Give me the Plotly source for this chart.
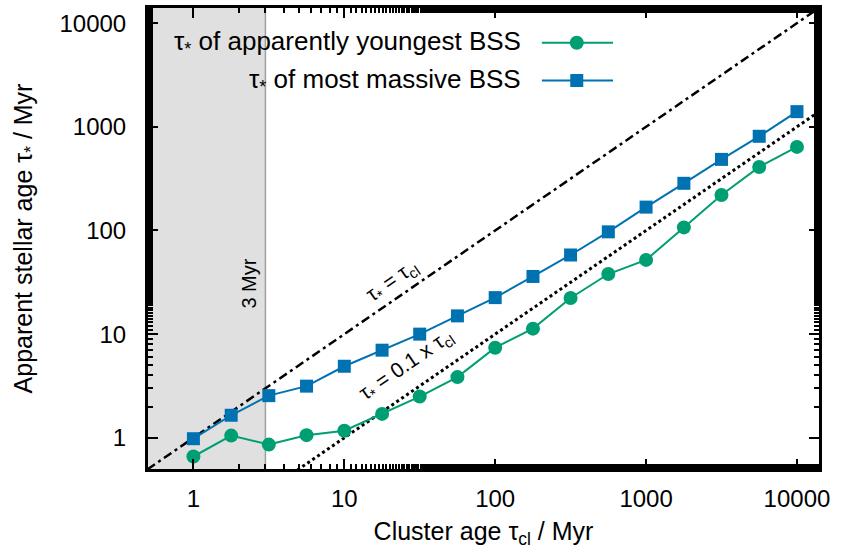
import plotly.graph_objects as go

# Cluster ages (Myr), evenly spaced in log10 with 4 steps per decade
cluster_age = [1, 1.78, 3.16, 5.62, 10, 17.8, 31.6, 56.2, 100, 178, 316, 562,
               1000, 1780, 3160, 5620, 10000]

# Apparent stellar age of the apparently youngest blue straggler
tau_youngest = [0.66, 1.05, 0.86, 1.06, 1.17, 1.7, 2.5, 3.85, 7.4, 11.3, 22.3,
                38, 52, 107, 220, 410, 640]

# Apparent stellar age of the most massive blue straggler
tau_massive = [0.98, 1.65, 2.55, 3.15, 4.9, 7.0, 10, 15, 22.5, 36, 58, 97,
               168, 285, 485, 810, 1400]

# Reference relations
ref_x = [0.3, 30000]
ref_equal = [v for v in ref_x]
ref_tenth = [0.1 * v for v in ref_x]

shade_limit = 3  # Myr
tick_vals = [1, 10, 100, 1000, 10000]
tick_text = ["1", "10", "100", "1000", "10000"]

legend_names = ["τ<sub>*</sub> of apparently youngest BSS",
                "τ<sub>*</sub> of most massive BSS"]

GREEN = "#009E73"
BLUE = "#0072B2"
FONT = "Liberation Sans, Arial, Helvetica, sans-serif"
LOG_RANGE = [-0.301, 4.146]

fig = go.Figure()

fig.add_trace(go.Scatter(x=ref_x, y=ref_equal, mode="lines",
                         line=dict(color="black", width=2.5,
                                   dash="9px,4px,3px,4px"),
                         showlegend=False, hoverinfo="skip"))
fig.add_trace(go.Scatter(x=ref_x, y=ref_tenth, mode="lines",
                         line=dict(color="black", width=3, dash="dot"),
                         showlegend=False, hoverinfo="skip"))

fig.add_trace(go.Scatter(x=cluster_age, y=tau_youngest, mode="lines+markers",
                         line=dict(color=GREEN, width=2),
                         marker=dict(symbol="circle", size=14, color=GREEN),
                         showlegend=False, name=legend_names[0]))
fig.add_trace(go.Scatter(x=cluster_age, y=tau_massive, mode="lines+markers",
                         line=dict(color=BLUE, width=2),
                         marker=dict(symbol="square", size=13, color=BLUE),
                         showlegend=False, name=legend_names[1]))

# Key samples, placed on an overlay axis spanning the plot area (0..1)
key_rows = [0.9246, 0.8427]
key_styles = [(GREEN, "circle", 14), (BLUE, "square", 13)]
for row, (col, sym, sz), label in zip(key_rows, key_styles, legend_names):
    fig.add_trace(go.Scatter(x=[0.587, 0.693], y=[row, row], mode="lines",
                             line=dict(color=col, width=2),
                             xaxis="x2", yaxis="y2", showlegend=False,
                             hoverinfo="skip"))
    fig.add_trace(go.Scatter(x=[0.639], y=[row], mode="markers",
                             marker=dict(symbol=sym, size=sz, color=col),
                             xaxis="x2", yaxis="y2", showlegend=False,
                             hoverinfo="skip"))
    fig.add_annotation(x=0.559, y=row, xref="x2", yref="y2", text=label,
                       showarrow=False, xanchor="right", yanchor="middle",
                       font=dict(size=26, color="black", family=FONT))

# Shaded early-age region and its boundary
fig.add_shape(type="rect", xref="x", yref="paper", x0=0.3, x1=shade_limit,
              y0=0, y1=1, fillcolor="#e0e0e0", line=dict(width=0),
              layer="below")
fig.add_shape(type="line", xref="x", yref="paper", x0=shade_limit,
              x1=shade_limit, y0=0, y1=1,
              line=dict(color="#a0a0a0", width=1.5), layer="below")
fig.add_annotation(x=0.37, y=1.49, xref="x", yref="y", text="3 Myr",
                   showarrow=False, textangle=-90,
                   font=dict(size=20, color="black", family=FONT))

# Labels along the reference relations
fig.add_annotation(x=1.319, y=1.51, xref="x", yref="y",
                   text="τ<sub>*</sub> = τ<sub>cl</sub>", showarrow=False,
                   textangle=-34.6,
                   font=dict(size=21, color="black", family=FONT))
fig.add_annotation(x=1.411, y=0.705, xref="x", yref="y",
                   text="τ<sub>*</sub> = 0.1 x τ<sub>cl</sub>",
                   showarrow=False, textangle=-34.6,
                   font=dict(size=21, color="black", family=FONT))

axis_common = dict(
    type="log", range=LOG_RANGE, tickvals=tick_vals, ticktext=tick_text,
    ticks="inside", ticklen=10, tickwidth=2, tickcolor="black",
    showline=True, linecolor="black", linewidth=3, mirror="ticks",
    showgrid=False, zeroline=False,
    tickfont=dict(size=24, color="black", family=FONT),
    minor=dict(ticks="inside", ticklen=5, tickwidth=2, tickcolor="black",
               showgrid=False),
)

fig.update_layout(
    width=841, height=554,
    margin=dict(l=148, r=22, t=5, b=85),
    paper_bgcolor="white", plot_bgcolor="white",
    font=dict(family=FONT, color="black"),
    xaxis=dict(axis_common, ticklabelstandoff=6,
               title=dict(text="Cluster age τ<sub>cl</sub> / Myr",
                          font=dict(size=25, family=FONT), standoff=12)),
    yaxis=dict(axis_common, ticklabelstandoff=14,
               title=dict(text="Apparent stellar age τ<sub>*</sub> / Myr",
                          font=dict(size=25, family=FONT), standoff=20)),
    xaxis2=dict(overlaying="x", range=[0, 1], visible=False, fixedrange=True),
    yaxis2=dict(overlaying="y", range=[0, 1], visible=False, fixedrange=True),
    showlegend=False,
)

fig.write_html("out.html")
